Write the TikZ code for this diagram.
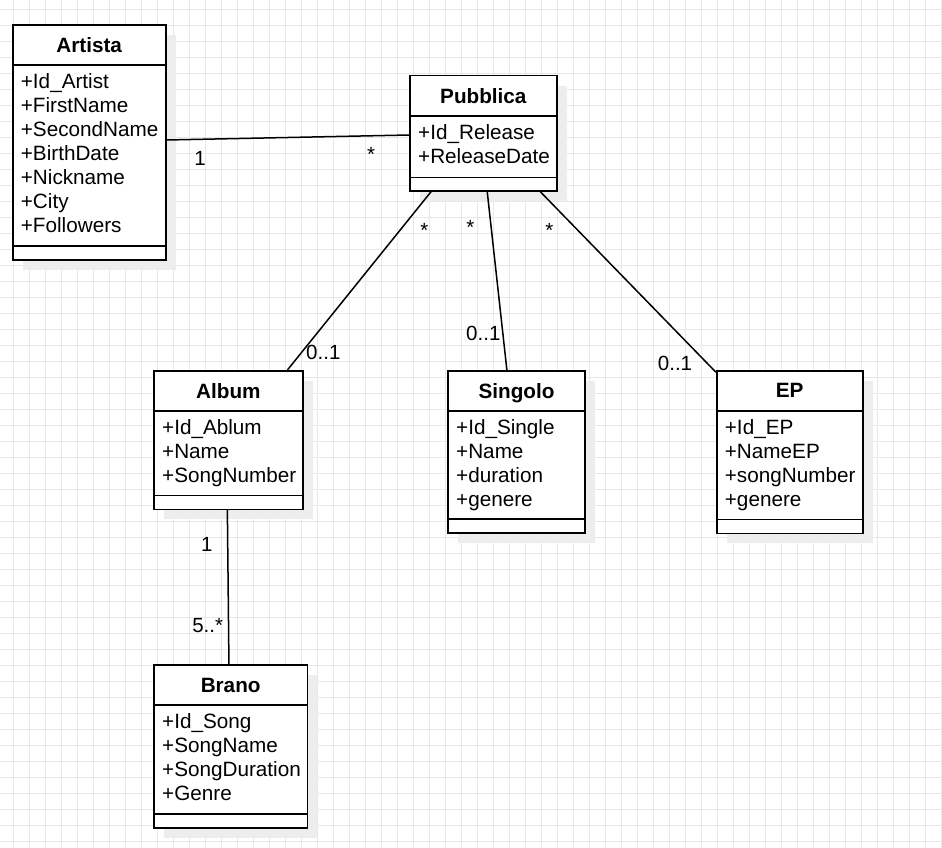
\documentclass[tikz,border=0pt]{standalone}
\usepackage{fontspec}
\setmainfont{Liberation Sans}
\usetikzlibrary{calc}

\definecolor{gridline}{HTML}{E8E8E8}
\definecolor{shadowfill}{HTML}{EDEDED}

\tikzset{
  classbox/.style={draw=black, fill=white, line width=1.6pt, inner sep=0pt},
  divider/.style={line width=1.6pt},
  attrtext/.style={font=\fontsize{20.7}{24}\selectfont, inner sep=0pt, anchor=base west},
  titletext/.style={font=\fontsize{20.7}{24}\selectfont\bfseries, inner sep=0pt, anchor=base},
  mult/.style={font=\fontsize{20.5}{24}\selectfont, inner sep=0pt, anchor=base},
  assoc/.style={line width=1.5pt},
  gridstroke/.style={draw=gridline, line width=0.8pt},
}

% UML class: name, left, top, right, title rule, attribute rule, bottom, title, attributes
\newcommand{\umlclass}[9]{%
  \fill[shadowfill] ({#2+10},{#3+10}) rectangle ({#4+10},{#7+10});
  \node[classbox, minimum width={(#4-#2)*1pt}, minimum height={(#7-#3)*1pt}]
    (#1) at ({(#2+#4)/2},{(#3+#7)/2}) {};
  \draw[divider] (#2,#5) -- (#4,#5);
  \draw[divider] (#2,#6) -- (#4,#6);
  \node[titletext] (#1-title) at ({(#2+#4)/2},{(#3+#5)/2+7.2}) {#8};
  \foreach \a [count=\i from 0] in {#9}
    \node[attrtext] (#1-attr\i) at ({#2+8},{#5+23.7+23.9*\i}) {\a};
}

\begin{document}
\begin{tikzpicture}[x=1pt,y=-1pt]
  \useasboundingbox (0,0) rectangle (942,848);
  \fill[white] (0,0) rectangle (942,848);

  % background grid
  \foreach \x in {13.3,29.3,...,942}
    \draw[gridstroke] (\x,0) -- (\x,848);
  \foreach \y in {9.3,25.3,...,848}
    \draw[gridstroke] (0,\y) -- (942,\y);

  % classes
  \umlclass{art}{12.7}{25}{165.7}{65}{245.7}{260}{Artista}
    {+Id\_Artist,+FirstName,+SecondName,+BirthDate,+Nickname,+City,+Followers}
  \umlclass{pub}{410}{75.7}{556.7}{116}{177.3}{190.7}{Pubblica}
    {+Id\_Release,+ReleaseDate}
  \umlclass{alb}{154}{370.7}{302.7}{411}{495.3}{509.3}{Album}
    {+Id\_Ablum,+Name,+SongNumber}
  \umlclass{sing}{448}{371}{585}{411}{519}{533}{Singolo}
    {+Id\_Single,+Name,+duration,+genere}
  \umlclass{ep}{716.7}{370.7}{862.7}{410.7}{519.3}{533.3}{EP}
    {+Id\_EP,+NameEP,+songNumber,+genere}
  \umlclass{bra}{154}{665}{307.3}{705}{813.7}{827.7}{Brano}
    {+Id\_Song,+SongName,+SongDuration,+Genre}

  % associations
  \draw[assoc] ([yshift=2.5pt]art.east) -- ([yshift=-1.8pt]pub.west);
  \draw[assoc] ([xshift=22pt]pub.south west) -- ([xshift=-16pt]alb.north east);
  \draw[assoc] ([xshift=78pt]pub.south west) -- ([xshift=59.7pt]sing.north west);
  \draw[assoc] ([xshift=-17.4pt]pub.south east) -- ([yshift=-2.3pt]ep.north west);
  \draw[assoc] ([xshift=-1pt]alb.south) -- ([xshift=-1.7pt]bra.north);

  % multiplicities
  \node[mult] (m-art) at (200,165.7) {1};
  \node[mult] (m-pub1) at (371,161.8) {*};
  \node[mult] (m-pub2) at (424.3,237) {*};
  \node[mult] (m-pub3) at (470.3,234.3) {*};
  \node[mult] (m-pub4) at (549.3,237) {*};
  \node[mult] (m-alb) at (323.3,359.3) {0..1};
  \node[mult] (m-sing) at (483.3,340.7) {0..1};
  \node[mult] (m-ep) at (675,370) {0..1};
  \node[mult] (m-alb2) at (206.7,551) {1};
  \node[mult] (m-bra) at (207.7,632.3) {5..*};
\end{tikzpicture}
\end{document}
